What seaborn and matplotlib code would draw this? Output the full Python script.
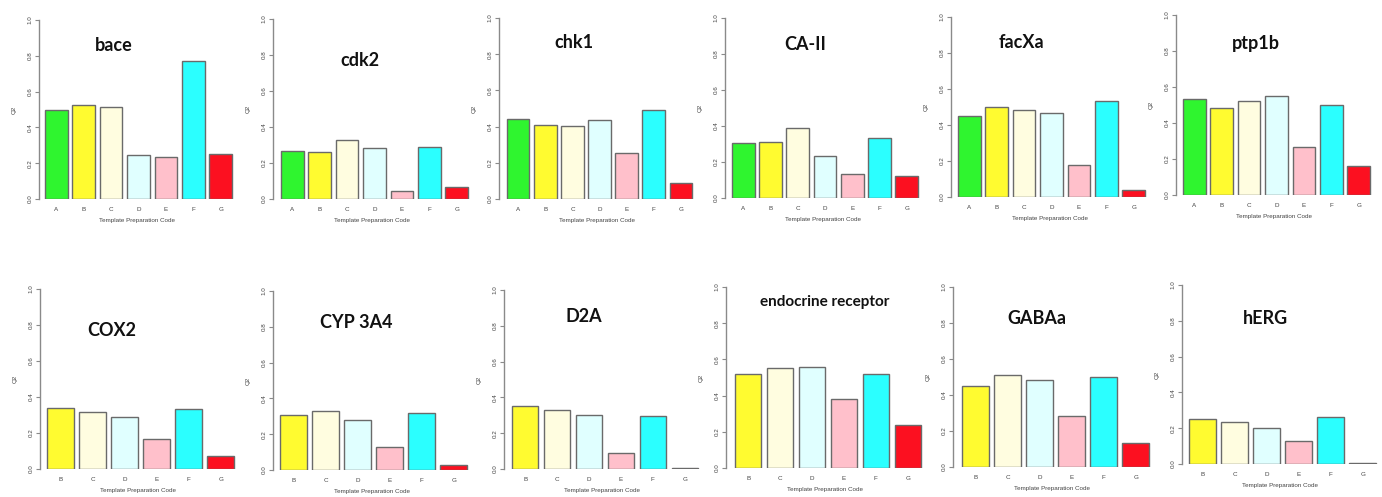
import numpy as np
import pandas as pd
import matplotlib
matplotlib.use('Agg')
import matplotlib.pyplot as plt
import seaborn as sns

sns.set_style('white')
plt.rcParams['font.family'] = ['Liberation Sans', 'DejaVu Sans']

# data: Q2 per template preparation code
codes_top = ['A', 'B', 'C', 'D', 'E', 'F', 'G']
codes_bottom = ['B', 'C', 'D', 'E', 'F', 'G']

bace = [0.495, 0.525, 0.514, 0.248, 0.235, 0.77, 0.25]
cdk2 = [0.266, 0.259, 0.326, 0.281, 0.042, 0.288, 0.066]
chk1 = [0.44, 0.41, 0.403, 0.435, 0.255, 0.492, 0.091]
ca_ii = [0.303, 0.312, 0.389, 0.236, 0.132, 0.335, 0.122]
facxa = [0.45, 0.498, 0.485, 0.465, 0.18, 0.535, 0.037]
ptp1b = [0.533, 0.483, 0.52, 0.548, 0.267, 0.498, 0.163]

cox2 = [0.337, 0.318, 0.287, 0.167, 0.333, 0.074]
cyp3a4 = [0.306, 0.327, 0.28, 0.126, 0.321, 0.026]
d2a = [0.351, 0.327, 0.299, 0.087, 0.297, 0.003]
endocrine = [0.517, 0.551, 0.56, 0.383, 0.521, 0.239]
gabaa = [0.452, 0.509, 0.485, 0.285, 0.498, 0.133]
herg = [0.249, 0.234, 0.201, 0.128, 0.264, 0.003]

titles = ['bace', 'cdk2', 'chk1', 'CA-II', 'facXa', 'ptp1b',
          'COX2', 'CYP 3A4', 'D2A', 'endocrine receptor', 'GABAa', 'hERG']
values = [bace, cdk2, chk1, ca_ii, facxa, ptp1b,
          cox2, cyp3a4, d2a, endocrine, gabaa, herg]
codes = [codes_top] * 6 + [codes_bottom] * 6

colors = {'A': '#2ff52f', 'B': '#fffb30', 'C': '#fffde0', 'D': '#e0ffff',
          'E': '#ffc0cb', 'F': '#2bffff', 'G': '#fc1020'}

# layout in pixels: axis x, first bar left, last bar right, y of 1.0, y of 0.0
geom = [
    (39, 45, 232, 20, 199), (273, 281, 468, 19, 199), (499, 507, 692, 18, 199),
    (725, 732, 918, 18, 198), (951, 958, 1145, 17, 197), (1176, 1183, 1370, 15, 195),
    (40, 47, 234, 289, 469), (273, 280, 467, 291, 470), (504, 512, 698, 290, 469),
    (726, 735, 921, 287, 468), (953, 962, 1149, 287, 467), (1182, 1189, 1376, 285, 464),
]
# title centre (px) and size
title_pos = [
    (114, 46, 13), (360, 61, 13), (574, 43, 13), (805, 44, 13),
    (1021, 43, 13), (1256, 43, 13),
    (112, 330, 13), (356, 323, 13), (584, 317, 13), (825, 302, 11),
    (1037, 318, 13), (1265, 319, 13),
]

W, H = 1382, 497
fig = plt.figure(figsize=(W / 100, H / 100), dpi=100)
bw = 0.83

for i in range(12):
    ax_x, bl, br, y1, y0 = geom[i]
    n = len(codes[i])
    scale = (br - bl) / (n - 1 + bw)
    right = br + 3
    ax = fig.add_axes([ax_x / W, 1 - y0 / H, (right - ax_x) / W, (y0 - y1) / H])
    df = pd.DataFrame({'code': codes[i], 'q2': values[i]})
    sns.barplot(data=df, x='code', y='q2', hue='code', palette=colors, saturation=1,
                width=bw, edgecolor='#6a6a6a', linewidth=1.0, legend=False, ax=ax)
    ax.set_xlim(-bw / 2 - (bl - ax_x) / scale, n - 1 + bw / 2 + 3 / scale)
    ax.set_ylim(0, 1)
    for s in ['top', 'right', 'bottom']:
        ax.spines[s].set_visible(False)
    ax.spines['left'].set_color('#8a8a8a')
    ax.spines['left'].set_linewidth(1.0)
    ax.spines['left'].set_bounds(0, 1)
    ax.set_yticks([0, 0.2, 0.4, 0.6, 0.8, 1.0])
    ax.set_yticklabels(['0.0', '0.2', '0.4', '0.6', '0.8', '1.0'],
                       rotation=90, va='center', fontsize=4.5, color='#444444')
    ax.tick_params(axis='y', direction='out', length=3, width=0.8, color='#8a8a8a', pad=1.5, left=True)
    ax.tick_params(axis='x', length=0, pad=6, labelsize=4.5, labelcolor='#444444')
    ax.set_xlabel('Template Preparation Code', fontsize=4.5, color='#444444', labelpad=4)
    ax.set_ylabel('Q2', fontsize=4.5, color='#444444', labelpad=8)
    tx, ty, ts = title_pos[i]
    fig.text(tx / W, 1 - ty / H, titles[i], ha='center', va='center',
             fontsize=ts, fontweight='bold', family=['Lato', 'DejaVu Sans'], color='#111111')

fig.savefig('out.png', dpi=100, facecolor='white')
